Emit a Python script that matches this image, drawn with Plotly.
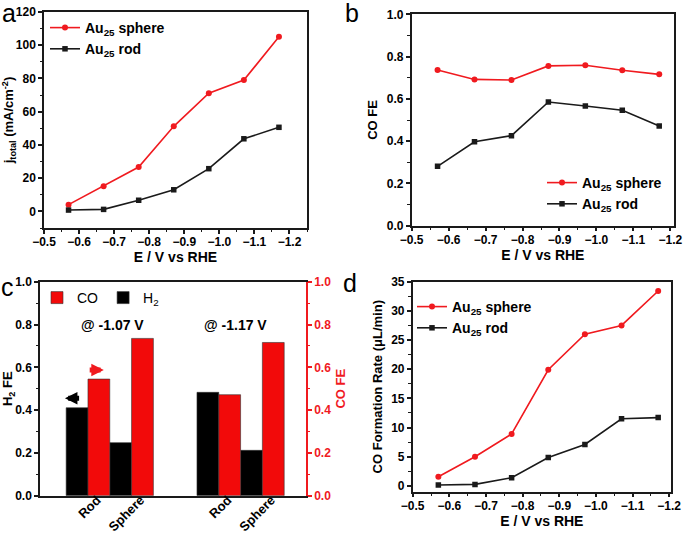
import plotly.graph_objects as go

# ---------------- data ----------------
E = [-0.57, -0.67, -0.77, -0.87, -0.97, -1.07, -1.17]
j_sphere = [4.05, 15.2, 26.7, 51.2, 71.1, 79.0, 105.1]
j_rod = [0.8, 1.2, 6.7, 13.0, 25.7, 43.7, 50.6]
fe_sphere = [0.737, 0.692, 0.689, 0.756, 0.759, 0.735, 0.716]
fe_rod = [0.281, 0.397, 0.426, 0.585, 0.566, 0.546, 0.472]
rate_sphere = [1.55, 5.0, 8.9, 19.9, 26.0, 27.5, 33.4]
rate_rod = [0.15, 0.25, 1.4, 4.85, 7.1, 11.5, 11.7]

bar_pos = [1, 2, 4, 5]
bar_labels = ["Rod", "Sphere", "Rod", "Sphere"]
h2_fe = [0.411, 0.248, 0.483, 0.212]
co_fe = [0.545, 0.735, 0.472, 0.716]
potential_labels = ["@ -1.07 V", "@ -1.17 V"]
potential_pos = [1.57, 4.39]

# ---------------- style ----------------
F = "Liberation Sans"
RED = "#f01a1f"
BARRED = "#f20a0a"
LC = "#1a1a1a"
W, H = 685, 536


def px_x(p):
    return p / W


def px_y(p):
    return 1 - p / H


def axis(**kw):
    d = dict(showline=True, linewidth=1.5, linecolor=LC, mirror=True,
             ticks="outside", ticklen=4, tickwidth=1.5, tickcolor=LC,
             showgrid=False, zeroline=False, automargin=False,
             tickfont=dict(family=F, size=12, color="black", weight="bold"),
             minor=dict(ticks="outside", ticklen=2.5, tickwidth=1.2, tickcolor=LC),
             title=dict(font=dict(family=F, size=13, color="black", weight="bold")))
    for k, v in kw.items():
        if k == "title_text":
            d["title"]["text"] = v
        elif k == "standoff":
            d["title"]["standoff"] = v
        elif k == "title_size":
            d["title"]["font"]["size"] = v
        else:
            d[k] = v
    return d


fig = go.Figure()

sph_name = "Au<sub>25</sub> sphere"
rod_name = "Au<sub>25</sub> rod"

# panel a
fig.add_trace(go.Scatter(x=E, y=j_sphere, name=sph_name, mode="lines+markers",
                         line=dict(color=RED, width=1.6), marker=dict(symbol="circle", size=6, color=RED),
                         xaxis="x", yaxis="y", legend="legend"))
fig.add_trace(go.Scatter(x=E, y=j_rod, name=rod_name, mode="lines+markers",
                         line=dict(color=LC, width=1.6), marker=dict(symbol="square", size=5.5, color=LC),
                         xaxis="x", yaxis="y", legend="legend"))
# panel b
fig.add_trace(go.Scatter(x=E, y=fe_sphere, name=sph_name, mode="lines+markers",
                         line=dict(color=RED, width=1.6), marker=dict(symbol="circle", size=6, color=RED),
                         xaxis="x2", yaxis="y2", legend="legend2"))
fig.add_trace(go.Scatter(x=E, y=fe_rod, name=rod_name, mode="lines+markers",
                         line=dict(color=LC, width=1.6), marker=dict(symbol="square", size=5.5, color=LC),
                         xaxis="x2", yaxis="y2", legend="legend2"))
# panel c
fig.add_trace(go.Bar(x=bar_pos, y=co_fe, name="CO", offset=0, width=0.5,
                     marker=dict(color=BARRED, line=dict(color="#333", width=0.6)),
                     xaxis="x3", yaxis="y5", legend="legend3"))
fig.add_trace(go.Bar(x=bar_pos, y=h2_fe, name="H<sub>2</sub>", offset=-0.5, width=0.5,
                     marker=dict(color="black", line=dict(color="#333", width=0.6)),
                     xaxis="x3", yaxis="y3", legend="legend3"))
# panel d
fig.add_trace(go.Scatter(x=E, y=rate_sphere, name=sph_name, mode="lines+markers",
                         line=dict(color=RED, width=1.6), marker=dict(symbol="circle", size=6, color=RED),
                         xaxis="x4", yaxis="y4", legend="legend4"))
fig.add_trace(go.Scatter(x=E, y=rate_rod, name=rod_name, mode="lines+markers",
                         line=dict(color=LC, width=1.6), marker=dict(symbol="square", size=5.5, color=LC),
                         xaxis="x4", yaxis="y4", legend="legend4"))

leg_font = dict(family=F, size=14, color="black", weight="bold")

fig.update_layout(
    width=W, height=H, margin=dict(l=0, r=0, t=0, b=0, autoexpand=False),
    paper_bgcolor="white", plot_bgcolor="white", showlegend=True,
    barmode="overlay",
    xaxis=axis(domain=[px_x(44), px_x(307)], range=[-0.5, -1.25], dtick=0.1, tick0=0,
               tickformat=".1f", anchor="y", title_text="E / V vs RHE", standoff=4,
               title_size=14, ticklabelstandoff=-2),
    yaxis=axis(domain=[px_y(228), px_y(12)], range=[-10, 120], dtick=20, tick0=0,
               anchor="x", title_text="j<sub>total</sub> (mA/cm<sup>-2</sup>)", standoff=6),
    xaxis2=axis(domain=[px_x(411.7), px_x(674)], range=[-0.5, -1.21], dtick=0.1, tick0=0,
                tickformat=".1f", anchor="y2", title_text="E / V vs RHE", standoff=4,
                title_size=14, ticklabelstandoff=-2),
    yaxis2=axis(domain=[px_y(225.7), px_y(14.3)], range=[0, 1], dtick=0.2, tick0=0,
                tickformat=".1f", anchor="x2", title_text="CO FE", standoff=6),
    xaxis3=axis(domain=[px_x(40), px_x(306)], range=[-0.1, 6.0], tickvals=bar_pos,
                ticktext=bar_labels, ticks="", ticklen=0, tickangle=-45, anchor="y3",
                ticklabelshift=9, ticklabelstandoff=-10,
                tickfont=dict(family=F, size=13, color="black", weight="bold"),
                minor=dict(ticks="")),
    yaxis3=axis(domain=[px_y(495.7), px_y(281.7)], range=[0, 1], dtick=0.2, tick0=0,
                tickformat=".1f", anchor="x3", mirror=False, title_text="H<sub>2</sub> FE", standoff=6),
    yaxis5=axis(overlaying="y3", side="right", anchor="x3", range=[0, 1], dtick=0.2, tick0=0,
                tickformat=".1f", mirror=False, linecolor=RED, tickcolor=RED,
                tickfont=dict(family=F, size=12, color=RED, weight="bold"),
                minor=dict(ticks="outside", ticklen=2.5, tickwidth=1.2, tickcolor=RED),
                title=dict(text="CO FE", standoff=6,
                           font=dict(family=F, size=13, color=RED, weight="bold"))),
    xaxis4=axis(domain=[px_x(412.7), px_x(671)], range=[-0.5, -1.205], dtick=0.1, tick0=0,
                tickformat=".1f", anchor="y4", title_text="E / V vs RHE", standoff=4,
                title_size=14, ticklabelstandoff=-2),
    yaxis4=axis(domain=[px_y(491.7), px_y(281.7)], range=[-1, 35], dtick=5, tick0=0,
                anchor="x4", title_text="CO Formation Rate (\u03bcL/min)", standoff=6),
    legend=dict(x=px_x(45), y=px_y(12), xanchor="left", yanchor="top",
                bgcolor="rgba(0,0,0,0)", font=leg_font),
    legend2=dict(x=px_x(542), y=px_y(167), xanchor="left", yanchor="top",
                 bgcolor="rgba(0,0,0,0)", font=leg_font),
    legend3=dict(x=px_x(37), y=px_y(282), xanchor="left", yanchor="top", orientation="h",
                 bgcolor="rgba(0,0,0,0)", font=dict(family=F, size=14, color="black"),
                 traceorder="normal"),
    legend4=dict(x=px_x(412), y=px_y(291), xanchor="left", yanchor="top",
                 bgcolor="rgba(0,0,0,0)", font=leg_font),
)

fig.update_layout(
    xaxis=dict(minor=dict(dtick=0.05)), xaxis2=dict(minor=dict(dtick=0.05)),
    xaxis4=dict(minor=dict(dtick=0.05)),
    yaxis=dict(minor=dict(dtick=10)), yaxis2=dict(minor=dict(dtick=0.1)),
    yaxis3=dict(minor=dict(dtick=0.1)), yaxis5=dict(minor=dict(dtick=0.1)),
    yaxis4=dict(minor=dict(dtick=2.5)),
)

for txt, xp in zip(potential_labels, potential_pos):
    fig.add_annotation(x=xp, y=0.80, xref="x3", yref="y3", text=txt, showarrow=False,
                       font=dict(family=F, size=14, color="black", weight="bold"))

fig.add_annotation(x=0.472, y=0.455, ax=0.831, ay=0.455, xref="x3", yref="y3",
                   axref="x3", ayref="y3", text="", showarrow=True, arrowhead=2,
                   arrowsize=0.5, arrowwidth=5, arrowcolor="black")
fig.add_annotation(x=1.364, y=0.587, ax=1.005, ay=0.587, xref="x3", yref="y3",
                   axref="x3", ayref="y3", text="", showarrow=True, arrowhead=2,
                   arrowsize=0.5, arrowwidth=5, arrowcolor=RED)

for letter, xp, yp in [("a", 0, 29), ("b", 343, 29), ("c", -1, 303), ("d", 341, 299)]:
    fig.add_annotation(x=px_x(xp), y=px_y(yp), xref="paper", yref="paper", text=letter,
                       showarrow=False, xanchor="left", yanchor="bottom",
                       font=dict(family=F, size=25, color="black"))

fig.write_html("out.html", config={"displayModeBar": False},
               post_script="document.body.style.margin='0px';")
